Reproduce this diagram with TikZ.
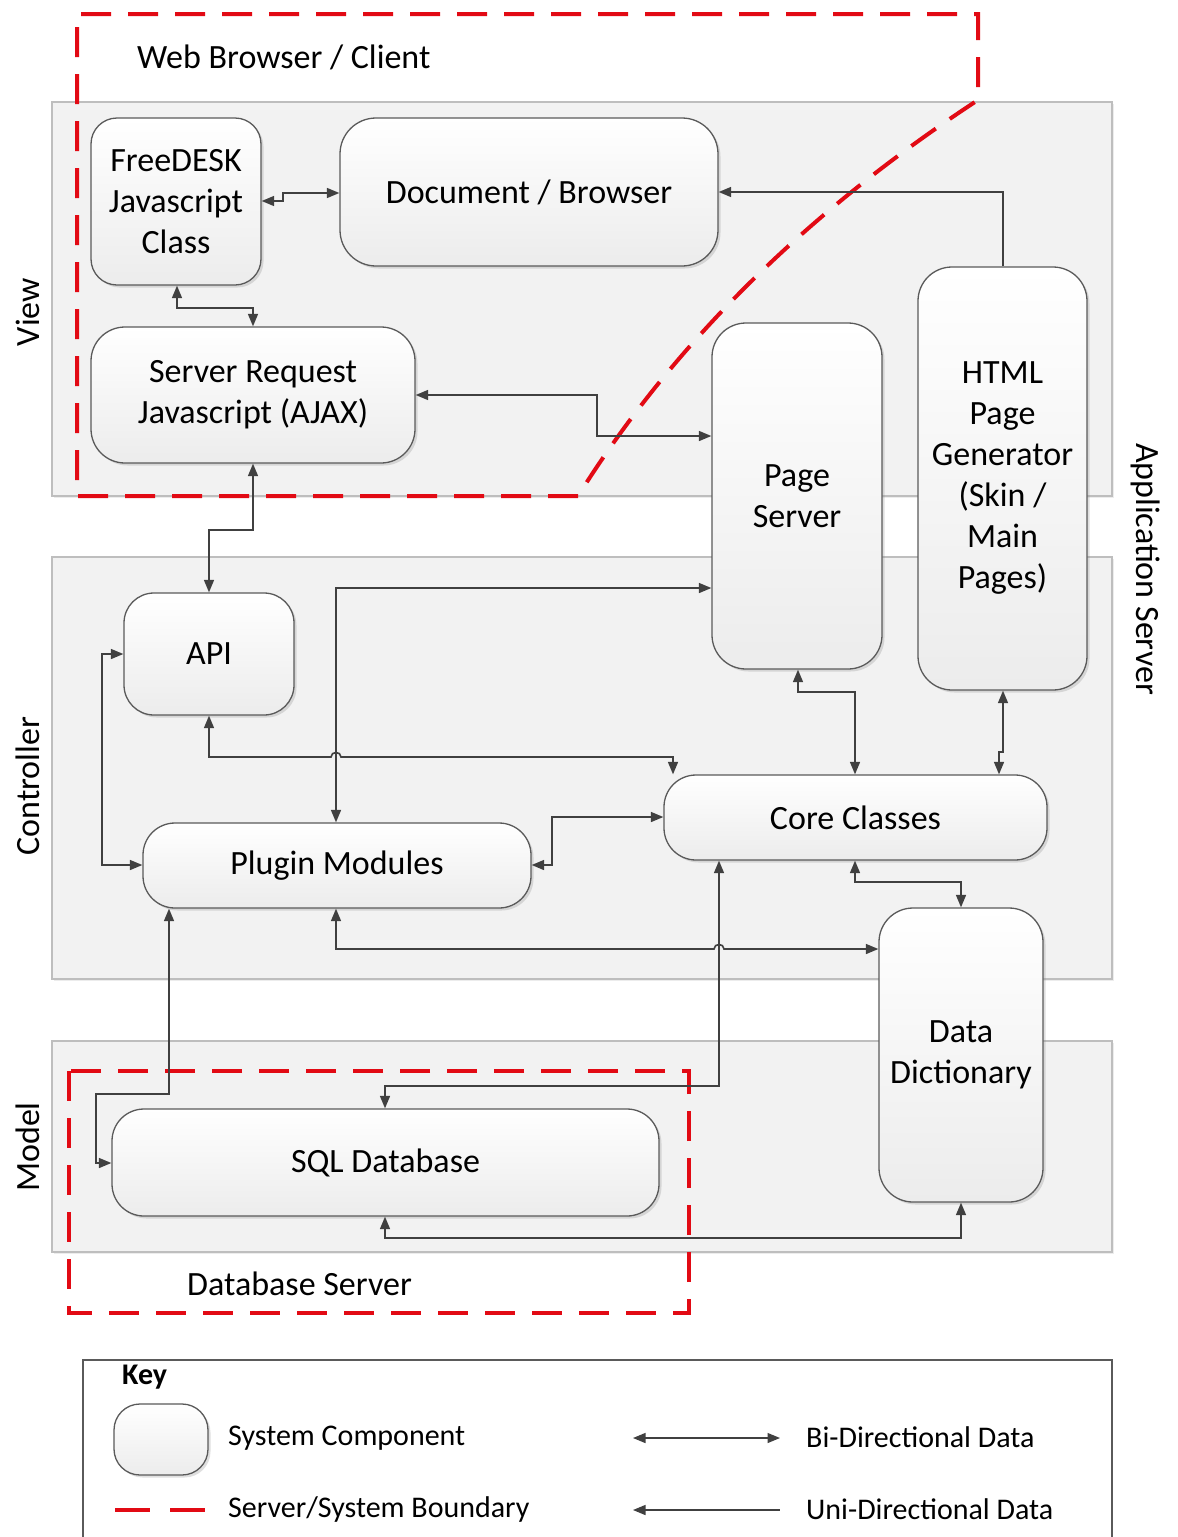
\documentclass[tikz,border=0pt]{standalone}
\usepackage{fontspec}
\setmainfont{Carlito}
\usetikzlibrary{arrows.meta,shadows}
\definecolor{cgray}{RGB}{64,64,64}
\definecolor{pfill}{RGB}{242,242,242}
\definecolor{pdraw}{RGB}{190,190,190}
\definecolor{bred}{RGB}{226,10,20}
\definecolor{nbot}{RGB}{236,236,236}
\definecolor{ndraw}{RGB}{90,90,90}
\tikzset{
  >={Triangle[length=12.5pt,width=10pt]},
  panel/.style={fill=pfill, draw=pdraw, line width=1.3pt,
    drop shadow={opacity=0.15, shadow xshift=2pt, shadow yshift=-2pt}},
  comp/.style={rounded corners=30pt, draw=ndraw, line width=1.3pt,
    top color=white, bottom color=nbot, inner sep=0pt, align=center,
    font=\fontsize{34}{41}\selectfont,
    drop shadow={opacity=0.25, shadow xshift=2.5pt, shadow yshift=-2.5pt}},
  con/.style={draw=cgray, line width=1.6pt},
  bound/.style={draw=bred, line width=4pt, dash pattern=on 30pt off 17pt},
  lbl/.style={font=\fontsize{34}{41}\selectfont, inner sep=0pt},
  keylbl/.style={font=\fontsize{30}{36}\selectfont, inner sep=0pt, anchor=west},
}
\begin{document}
\begin{tikzpicture}[x=1pt,y=-1pt]
\clip (0,0) rectangle (1178,1537);
\fill[white] (0,0) rectangle (1178,1537);

% layer panels
\path[panel] (52,102) rectangle (1112,496);
\path[panel] (52,557) rectangle (1112,979);
\path[panel] (52,1041) rectangle (1112,1252);

\node[lbl, rotate=90] (lview) at (28,312) {View};
\node[lbl, rotate=90] (lctrl) at (28,786) {Controller};
\node[lbl, rotate=90] (lmodel) at (28,1147) {Model};
\node[lbl, rotate=-90] (lapp) at (1146,569) {Application Server};

% boundaries
\draw[bound] (578,496) -- (77,496) -- (77,14) -- (978,14) -- (978,100)
  .. controls (830,197) and (685,325) .. (578,496);
\node[lbl, anchor=west] (lweb) at (137,57) {Web Browser / Client};

\draw[bound] (69,1071) rectangle (689,1313);
\node[lbl, anchor=west] (ldb) at (187,1284) {Database Server};

% components
\node[comp, minimum width=170pt, minimum height=167pt, rounded corners=26pt] (free) at (176,201.5) {FreeDESK\\Javascript\\Class};
\node[comp, minimum width=378pt, minimum height=148pt, rounded corners=36pt] (doc) at (529,192) {Document / Browser};
\node[comp, minimum width=324pt, minimum height=136pt, rounded corners=34pt] (sreq) at (253,395) {Server Request\\Javascript (AJAX)};
\node[comp, minimum width=170pt, minimum height=346pt, rounded corners=34pt] (page) at (797,496) {Page\\Server};
\node[comp, minimum width=169pt, minimum height=423pt, rounded corners=34pt] (html) at (1002.5,478.5) {HTML\\Page\\Generator\\(Skin /\\Main\\Pages)};
\node[comp, minimum width=170pt, minimum height=122pt, rounded corners=30pt] (api) at (209,654) {API};
\node[comp, minimum width=388pt, minimum height=85pt, rounded corners=32pt] (plug) at (337,865.5) {Plugin Modules};
\node[comp, minimum width=383pt, minimum height=85pt, rounded corners=32pt] (core) at (855.5,817.5) {Core Classes};
\node[comp, minimum width=164pt, minimum height=294pt, rounded corners=34pt] (dd) at (961,1055) {Data\\Dictionary};
\node[comp, minimum width=547pt, minimum height=107pt, rounded corners=32pt] (sql) at (385.5,1162.5) {SQL Database};

% connectors
\draw[con,<->] (free.east |- 0,201) -- (283,201) -- (283,193) -- (doc.west |- 0,193);
\draw[con,<->] (free.south -| 177,0) -- (177,308) -- (253,308) -- (sreq.north -| 253,0);
\draw[con,<->] (sreq.east |- 0,395) -- (597,395) -- (597,436) -- (page.west |- 0,436);
\draw[con,->] (html.north -| 1003,0) -- (1003,192) -- (doc.east |- 0,192);
\draw[con,<->] (sreq.south -| 253,0) -- (253,530) -- (209,530) -- (api.north -| 209,0);
\draw[con,<->] (plug.north -| 336,0) -- (336,588) -- (page.west |- 0,588);
\draw[con,<->] (api.south -| 209,0) -- (209,757) -- (331,757)
  .. controls (331,751) and (341,751) .. (341,757) -- (673,757) -- (core.north -| 673,0);
\draw[con,<->] (api.west |- 0,654) -- (102,654) -- (102,865) -- (plug.west |- 0,865);
\draw[con,<->] (plug.east |- 0,865) -- (552,865) -- (552,817) -- (core.west |- 0,817);
\draw[con,<->] (page.south -| 798,0) -- (798,692) -- (855,692) -- (core.north -| 855,0);
\draw[con,<->] (html.south -| 1003,0) -- (1003,752) -- (999,752) -- (core.north -| 999,0);
\draw[con,<->] (core.south -| 855,0) -- (855,882) -- (961,882) -- (dd.north -| 961,0);
\draw[con,<->] (plug.south -| 336,0) -- (336,949) -- (714,949)
  .. controls (714,943) and (724,943) .. (724,949) -- (dd.west |- 0,949);
\draw[con,<->] (core.south -| 719,0) -- (719,1086) -- (385,1086) -- (sql.north -| 385,0);
\draw[con,<->] (plug.south -| 169,0) -- (169,1094) -- (96,1094) -- (96,1163) -- (sql.west |- 0,1163);
\draw[con,<->] (sql.south -| 385,0) -- (385,1238) -- (961,1238) -- (dd.south -| 961,0);

% key
\draw[draw=ndraw, line width=1.3pt] (83,1600) -- (83,1360) -- (1112,1360) -- (1112,1600);
\node[keylbl, font=\fontsize{30}{36}\selectfont\bfseries] (kkey) at (122,1377) {Key};
\node[comp, minimum width=94pt, minimum height=71pt, rounded corners=26pt] (kcomp) at (161,1439.5) {};
\node[keylbl] (kcompl) at (228,1438) {System Component};
\draw[bound, dash pattern=on 35pt off 20pt] (115,1510) -- (206,1510);
\node[keylbl] (kboundl) at (228,1509) {Server/System Boundary};
\coordinate (kbia) at (633,1438);
\coordinate (kbib) at (780,1438);
\draw[con,<->, line width=1.3pt] (kbia) -- (kbib);
\node[keylbl] (kbil) at (806,1437) {Bi-Directional Data};
\coordinate (kunia) at (633,1510);
\coordinate (kunib) at (780,1510);
\draw[con,<-, line width=1.3pt] (kunia) -- (kunib);
\node[keylbl] (kunil) at (806,1509) {Uni-Directional Data};
\end{tikzpicture}
\end{document}
